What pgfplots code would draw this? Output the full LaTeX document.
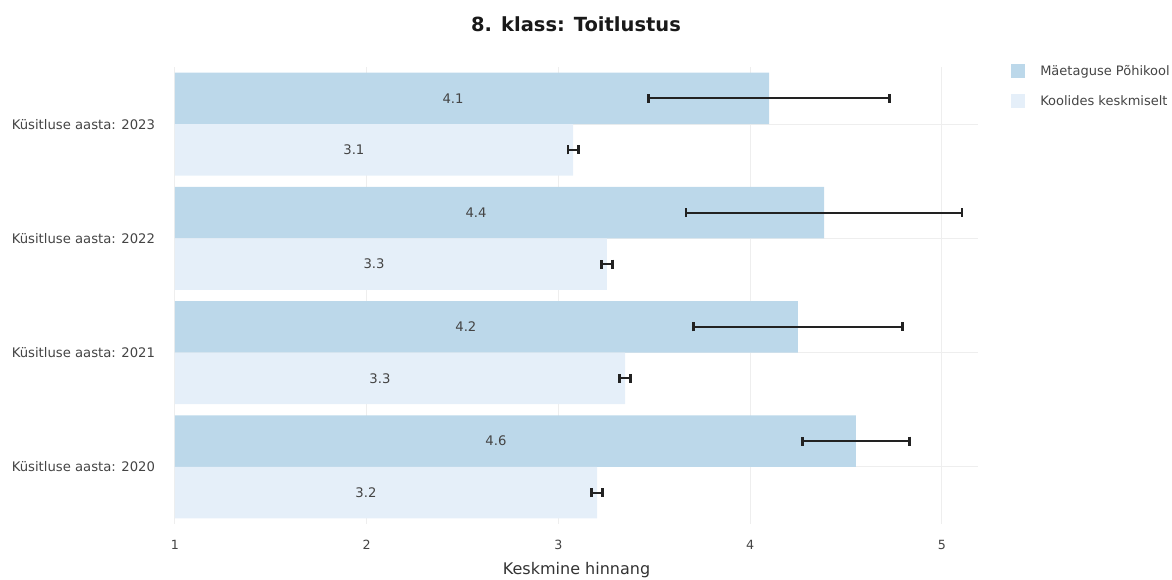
\documentclass[border=0pt]{standalone}
\usepackage{pgfplots}
\usepackage{pgfplotstable}
\pgfplotsset{compat=1.18}
\usepackage{fontspec}
\setmainfont{DejaVu Sans}
\definecolor{darkbar}{HTML}{BCD8EA}
\definecolor{lightbar}{HTML}{E5EFF9}
\definecolor{txt}{HTML}{444444}
\definecolor{gridc}{HTML}{EEEEEE}
\definecolor{errc}{HTML}{222222}

\pgfplotstableread{
y x err
0 4.551 0.28
1 4.249 0.545
2 4.385 0.72
3 4.098 0.63
}\schooldata
\pgfplotstableread{
y x err
0 3.201 0.03
1 3.347 0.03
2 3.253 0.03
3 3.076 0.027
}\avgdata

\begin{document}
\begin{tikzpicture}
\path[use as bounding box] (0,0) rectangle (879pt,434.25pt);
\begin{axis}[
  at={(131.25pt,41.25pt)}, anchor=south west,
  scale only axis, width=602.25pt, height=342.75pt,
  xmin=1, xmax=5.188, ymin=-0.5, ymax=3.5,
  xbar, bar width=0.45,
  xtick={1,2,3,4,5},
  ytick={0,1,2,3},
  yticklabels={Küsitluse aasta: 2020,Küsitluse aasta: 2021,Küsitluse aasta: 2022,Küsitluse aasta: 2023},
  /pgf/number format/assume math mode=true,
  xticklabel style={font=\fontsize{9.5}{10}\selectfont, text=txt, inner sep=0pt, anchor=north, yshift=-12pt},
  yticklabel style={font=\fontsize{9.9}{11}\selectfont, text=txt, inner sep=0pt, anchor=east, xshift=-10.5pt},
  grid=major, major grid style={gridc, line width=0.75pt},
  axis line style={draw=none},
  tick style={draw=none},
  legend image code/.code={\fill[#1] (0pt,-5.25pt) rectangle (10.5pt,5.25pt);},
  legend style={at={(rel axis cs:1.0411,1.0066)}, anchor=north west, draw=none, fill=none, inner sep=0pt,
    row sep=12pt, column sep=0pt,
    nodes={inner sep=0pt, font=\fontsize{9.75}{11}\selectfont, text=txt}},
  legend cell align=left,
]
\addplot[fill=darkbar, draw=none, bar shift=0.225,
  error bars/.cd, x dir=both, x explicit, error mark=|,
  error bar style={errc, line width=1.4pt},
  error mark options={draw=errc, /tikz/line width=2pt, mark size=3.4pt}]
  table[x=x, y=y, x error=err]{\schooldata};
\addlegendentry{\hspace{11.25pt}Mäetaguse Põhikool}
\addplot[fill=lightbar, draw=none, bar shift=-0.225,
  error bars/.cd, x dir=both, x explicit, error mark=|,
  error bar style={errc, line width=1.4pt},
  error mark options={draw=errc, /tikz/line width=2pt, mark size=3.4pt}]
  table[x=x, y=y, x error=err]{\avgdata};
\addlegendentry{\hspace{11.25pt}Koolides keskmiselt}
\begin{scope}[every node/.style={font=\fontsize{9.9}{11}\selectfont, text=txt}]
\node at (axis cs:2.450,3.225) {4.1};
\node at (axis cs:1.933,2.775) {3.1};
\node at (axis cs:2.570,2.225) {4.4};
\node at (axis cs:2.038,1.775) {3.3};
\node at (axis cs:2.517,1.225) {4.2};
\node at (axis cs:2.069,0.775) {3.3};
\node at (axis cs:2.674,0.225) {4.6};
\node at (axis cs:1.996,-0.225) {3.2};
\end{scope}
\end{axis}
\node[font=\bfseries\fontsize{14.6}{16}\selectfont, text=black!90] at (432pt,416.25pt) {8. klass: Toitlustus};
\node[font=\fontsize{12}{13}\selectfont, text=black!80] at (432.4pt,7pt) {Keskmine hinnang};
\end{tikzpicture}
\end{document}
